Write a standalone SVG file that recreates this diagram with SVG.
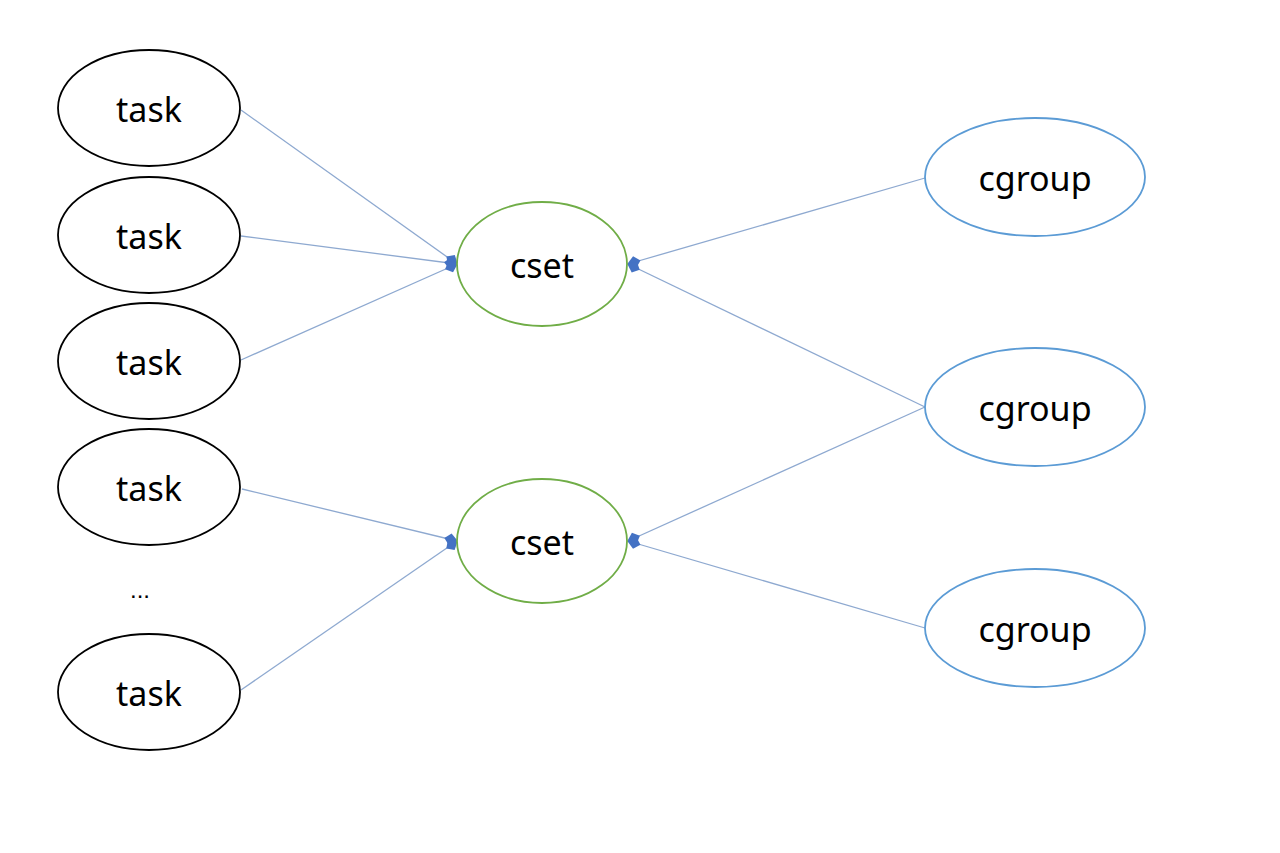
<svg xmlns="http://www.w3.org/2000/svg" width="1280" height="853" viewBox="0 0 1280 853">
<style>
.task{fill:#fff;stroke:#000;stroke-width:1.8}
.cset{fill:#fff;stroke:#70AD47;stroke-width:1.8}
.cg{fill:#fff;stroke:#5B9BD5;stroke-width:1.8}
.lbl{font-family:"Noto Sans","Liberation Sans",sans-serif;font-size:34px;fill:#000;text-anchor:middle}
.ln{stroke:#8EA9D0;stroke-width:1.3;fill:none;marker-end:url(#ah)}
</style>
<defs>
<marker id="ah" viewBox="0 0 14 14" refX="13" refY="7" markerWidth="14" markerHeight="14" markerUnits="userSpaceOnUse" orient="auto">
<path d="M0,7 L6,1 L14,7 L6,13 z" fill="#4472C4"/>
</marker>
</defs>
<rect width="1280" height="853" fill="#fff"/>
<g id="connectors">
<line class="ln" x1="241" y1="110" x2="457" y2="264"/>
<line class="ln" x1="241" y1="236" x2="457" y2="264"/>
<line class="ln" x1="241" y1="360" x2="457" y2="264"/>
<line class="ln" x1="242" y1="489" x2="457" y2="541"/>
<line class="ln" x1="241" y1="690" x2="457" y2="541"/>
<line class="ln" x1="925" y1="178" x2="628" y2="264"/>
<line class="ln" x1="925" y1="407" x2="628" y2="264"/>
<line class="ln" x1="925" y1="407" x2="628" y2="541"/>
<line class="ln" x1="925" y1="628" x2="628" y2="541"/>
</g>
<g id="task1"><ellipse class="task" cx="149" cy="108" rx="91" ry="58"/><text class="lbl" x="149" y="122">task</text></g>
<g id="task2"><ellipse class="task" cx="149" cy="235" rx="91" ry="58"/><text class="lbl" x="149" y="249">task</text></g>
<g id="task3"><ellipse class="task" cx="149" cy="361" rx="91" ry="58"/><text class="lbl" x="149" y="375">task</text></g>
<g id="task4"><ellipse class="task" cx="149" cy="487" rx="91" ry="58"/><text class="lbl" x="149" y="501">task</text></g>
<g id="ellipsis"><text x="140" y="598" font-family="Liberation Sans, sans-serif" font-size="24" text-anchor="middle">...</text></g>
<g id="task5"><ellipse class="task" cx="149" cy="692" rx="91" ry="58"/><text class="lbl" x="149" y="706">task</text></g>
<g id="cset1"><ellipse class="cset" cx="542" cy="264" rx="85" ry="62"/><text class="lbl" x="542" y="278">cset</text></g>
<g id="cset2"><ellipse class="cset" cx="542" cy="541" rx="85" ry="62"/><text class="lbl" x="542" y="555">cset</text></g>
<g id="cgroup1"><ellipse class="cg" cx="1035" cy="177" rx="110" ry="59"/><text class="lbl" x="1035" y="191">cgroup</text></g>
<g id="cgroup2"><ellipse class="cg" cx="1035" cy="407" rx="110" ry="59"/><text class="lbl" x="1035" y="421">cgroup</text></g>
<g id="cgroup3"><ellipse class="cg" cx="1035" cy="628" rx="110" ry="59"/><text class="lbl" x="1035" y="642">cgroup</text></g>
</svg>
